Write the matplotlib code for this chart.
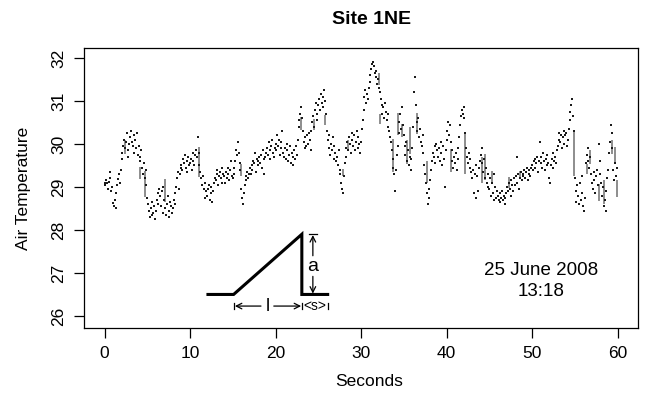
import numpy as np
import matplotlib
matplotlib.use('Agg')
import matplotlib.pyplot as plt

plt.rcParams['font.family'] = ['Liberation Sans', 'DejaVu Sans']

# Air temperature, 10 readings per second (one row per second, 0..59 s)
temp = [
    [29.10, 29.05, 29.15, 29.08, 28.95, 29.12, 29.35, 29.20, 28.90, 29.00],
    [28.62, 28.55, 28.70, 28.50, 28.85, 29.05, 29.18, 29.30, 29.10, 29.40],
    [29.65, 29.80, 29.95, 30.10, 29.90, 30.05, 30.25, 29.85, 29.70, 30.00],
    [30.15, 30.30, 30.05, 29.95, 30.20, 29.80, 30.10, 29.90, 30.25, 29.75],
    [29.95, 29.70, 29.60, 29.85, 29.45, 29.30, 29.55, 29.20, 29.40, 29.05],
    [28.75, 28.60, 28.45, 28.30, 28.50, 28.35, 28.65, 28.40, 28.55, 28.25],
    [28.45, 28.70, 28.85, 28.60, 28.95, 28.80, 28.55, 28.90, 28.40, 29.00],
    [28.70, 28.50, 28.35, 28.60, 28.80, 28.45, 28.30, 28.65, 28.55, 28.40],
    [28.50, 28.70, 28.60, 28.85, 29.00, 29.20, 29.35, 28.95, 29.30, 29.45],
    [29.50, 29.40, 29.65, 29.55, 29.75, 29.45, 29.60, 29.35, 29.70, 29.50],
    [29.55, 29.65, 29.40, 29.80, 29.60, 29.50, 29.75, 29.85, 29.70, 30.15],
    [29.80, 29.50, 29.35, 29.20, 29.05, 29.25, 28.95, 29.10, 28.75, 28.90],
    [28.80, 28.95, 29.05, 28.70, 28.85, 29.00, 28.65, 28.90, 29.10, 29.20],
    [29.15, 29.30, 29.40, 29.05, 29.25, 29.35, 29.20, 29.45, 29.10, 29.30],
    [29.25, 29.10, 29.35, 29.20, 29.45, 29.30, 29.15, 29.40, 29.60, 29.25],
    [29.20, 29.30, 29.45, 29.60, 29.85, 29.75, 30.05, 29.80, 29.55, 29.40],
    [28.95, 28.75, 28.60, 28.85, 29.05, 29.25, 29.15, 29.35, 29.20, 29.30],
    [29.45, 29.30, 29.50, 29.40, 29.60, 29.55, 29.80, 29.35, 29.65, 29.50],
    [29.60, 29.70, 29.55, 29.75, 29.45, 29.85, 29.65, 29.30, 29.70, 29.80],
    [29.90, 29.75, 30.05, 29.85, 29.65, 29.95, 30.10, 29.80, 29.70, 29.90],
    [30.00, 29.85, 30.20, 29.95, 30.10, 29.75, 29.90, 30.05, 30.30, 29.80],
    [29.70, 29.90, 29.65, 29.85, 30.00, 29.60, 29.75, 29.95, 29.55, 29.80],
    [29.70, 29.50, 29.85, 29.65, 29.95, 29.75, 30.10, 30.40, 30.55, 30.70],
    [30.85, 30.60, 30.30, 30.05, 29.90, 30.15, 29.95, 30.20, 30.00, 30.25],
    [30.10, 29.85, 30.30, 30.50, 30.65, 30.40, 30.80, 30.95, 30.55, 30.70],
    [30.90, 31.05, 30.80, 31.15, 30.95, 31.10, 30.85, 31.25, 31.00, 30.70],
    [30.30, 30.10, 29.90, 30.20, 29.75, 30.00, 29.85, 30.15, 29.65, 29.95],
    [29.80, 29.60, 29.70, 29.50, 29.85, 29.40, 29.30, 29.10, 28.95, 28.85],
    [29.25, 29.55, 29.70, 29.90, 30.05, 29.85, 30.15, 30.00, 29.80, 30.25],
    [30.10, 29.95, 30.20, 29.85, 30.05, 30.30, 29.90, 30.15, 30.00, 29.80],
    [30.05, 30.35, 30.55, 30.80, 31.10, 31.25, 30.95, 31.15, 31.05, 31.30],
    [31.45, 31.60, 31.75, 31.85, 31.90, 31.80, 31.65, 31.55, 31.70, 31.40],
    [31.50, 31.30, 31.20, 31.05, 30.90, 30.70, 30.85, 30.60, 30.95, 30.75],
    [30.55, 30.40, 30.70, 30.30, 30.15, 30.05, 29.85, 29.65, 29.45, 29.30],
    [28.90, 29.40, 29.75, 29.95, 30.25, 30.50, 30.70, 30.35, 30.85, 30.45],
    [30.20, 29.95, 29.75, 30.05, 29.60, 29.85, 29.50, 29.70, 29.40, 29.65],
    [29.90, 30.40, 31.20, 31.55, 30.90, 30.50, 30.30, 30.60, 30.15, 30.35],
    [30.05, 29.95, 30.20, 29.80, 29.50, 29.30, 29.10, 28.85, 28.60, 28.75],
    [28.95, 29.15, 29.40, 29.60, 29.80, 29.70, 29.95, 29.55, 30.00, 29.85],
    [29.70, 29.90, 29.60, 30.05, 29.80, 29.50, 29.95, 29.65, 29.00, 29.85],
    [30.10, 30.30, 30.50, 30.20, 30.45, 30.05, 29.85, 29.60, 29.45, 29.70],
    [29.55, 29.80, 29.40, 29.65, 29.90, 30.15, 30.45, 30.65, 30.80, 30.70],
    [30.85, 30.60, 30.25, 29.90, 29.70, 29.55, 29.80, 29.45, 29.65, 29.35],
    [29.20, 29.40, 28.85, 29.30, 28.75, 29.50, 29.25, 28.90, 29.45, 29.60],
    [29.75, 29.55, 29.90, 29.35, 29.65, 29.20, 29.45, 29.10, 29.30, 29.00],
    [28.95, 29.20, 28.80, 29.10, 28.85, 29.30, 28.70, 29.00, 28.75, 28.90],
    [28.80, 28.70, 28.85, 28.65, 28.75, 28.90, 28.70, 28.80, 28.60, 28.75],
    [28.85, 29.00, 28.90, 29.10, 28.95, 29.15, 28.80, 29.05, 28.90, 29.20],
    [29.05, 29.25, 29.10, 29.70, 29.30, 28.95, 29.20, 29.35, 29.15, 29.30],
    [29.25, 29.40, 29.20, 29.35, 29.45, 29.15, 29.30, 29.40, 29.25, 29.45],
    [29.50, 29.40, 29.60, 29.45, 29.65, 29.55, 29.70, 29.35, 29.60, 30.05],
    [29.55, 29.70, 29.45, 29.80, 29.60, 29.40, 29.65, 29.50, 29.75, 29.55],
    [29.20, 29.10, 29.50, 29.65, 29.45, 29.80, 29.60, 29.70, 29.55, 29.85],
    [29.95, 30.10, 30.25, 30.05, 30.20, 29.90, 30.15, 30.30, 30.00, 30.20],
    [30.25, 29.95, 30.10, 30.35, 30.55, 30.75, 30.90, 31.05, 30.65, 30.30],
    [29.20, 28.90, 28.65, 29.05, 28.80, 28.60, 29.10, 28.70, 29.25, 28.85],
    [28.55, 28.45, 28.75, 29.55, 29.75, 29.90, 29.60, 29.45, 29.70, 29.30],
    [29.10, 28.95, 29.35, 29.15, 28.85, 29.25, 29.40, 29.05, 30.00, 29.60],
    [29.30, 29.10, 28.80, 29.00, 28.55, 28.70, 28.45, 28.90, 29.20, 29.40],
    [29.80, 30.05, 30.45, 30.25, 29.90, 29.40, 29.15, 29.55, 29.25, 29.45],
]

# detected ramp drops (time, low, high)
ramp_t = [2.34, 4.17, 4.76, 7.1, 11.0, 15.98, 23.0, 24.56, 25.8, 27.87, 28.46,
          32.12, 32.2, 33.8, 34.38, 34.85, 35.35, 35.74, 36.5, 37.77, 40.54,
          42.18, 44.2, 44.5, 45.37, 47.32, 48.6, 54.96, 56.4, 56.79, 57.88,
          58.47, 59.33, 59.7, 59.9]
ramp_lo = [29.77, 29.19, 28.76, 28.64, 29.22, 29.26, 30.32, 30.32, 30.43, 29.26, 29.89,
           31.37, 30.47, 29.34, 30.2, 30.16, 29.54, 29.77, 30.24, 29.1, 29.34,
           29.3, 29.1, 29.15, 29.07, 28.97, 29.22, 29.26, 29.3, 29.54, 28.68,
           28.6, 29.77, 29.54, 28.76]
ramp_hi = [30.08, 29.46, 29.38, 29.18, 29.93, 29.54, 30.63, 30.59, 30.67, 29.42, 30.08,
           31.64, 30.7, 30.12, 30.71, 30.47, 30.08, 30.4, 30.71, 29.61, 29.89,
           30.24, 29.69, 29.77, 29.38, 29.22, 29.38, 30.32, 29.54, 29.85, 29.07,
           29.15, 30.08, 29.93, 29.15]

# ramp schematic (time, temperature)
shape_t = [12.1, 15.1, 23.08, 23.08, 26.1]
shape_y = [26.5, 26.5, 27.9, 26.5, 26.5]

secs = np.arange(len(temp))
t = np.concatenate([s + np.arange(len(row)) / 10 for s, row in zip(secs, temp)])
y = np.concatenate(temp)

fig = plt.figure(figsize=(6.48, 4.03), dpi=100)
ax = fig.add_axes([0.1296, 0.1861, 0.855, 0.6948])

ax.vlines(ramp_t, ramp_lo, ramp_hi, color='#858585', lw=1.3, zorder=2)
ax.plot(t, y, 's', color='#1a1a1a', markersize=2.0, markeredgewidth=0, zorder=3)

# schematic of a ramp
ax.plot(shape_t, shape_y, color='black', lw=2.2, solid_joinstyle='miter', zorder=4)
# amplitude "a"
ax.plot([23.9, 24.8], [27.9, 27.9], color='black', lw=0.9)
ax.annotate('', xy=(24.37, 27.88), xytext=(24.37, 27.4),
            arrowprops=dict(arrowstyle='->', lw=0.9, color='black', shrinkA=0, shrinkB=0))
ax.annotate('', xy=(24.37, 26.52), xytext=(24.37, 26.92),
            arrowprops=dict(arrowstyle='->', lw=0.9, color='black', shrinkA=0, shrinkB=0))
ax.text(24.37, 27.15, 'a', ha='center', va='center', fontsize=14)
# duration "l"
ly = 26.23
ax.plot([15.2, 15.2], [ly - 0.07, ly + 0.07], color='black', lw=0.9)
ax.plot([23.08, 23.08], [ly - 0.07, ly + 0.07], color='black', lw=0.9)
ax.plot([26.1, 26.1], [ly - 0.07, ly + 0.07], color='black', lw=0.9)
ax.annotate('', xy=(15.25, ly), xytext=(18.3, ly),
            arrowprops=dict(arrowstyle='->', lw=0.9, color='black', shrinkA=0, shrinkB=0))
ax.annotate('', xy=(23.0, ly), xytext=(19.8, ly),
            arrowprops=dict(arrowstyle='->', lw=0.9, color='black', shrinkA=0, shrinkB=0))
ax.text(19.05, ly, 'l', ha='center', va='center', fontsize=13)
ax.text(24.6, ly, '<s>', ha='center', va='center', fontsize=10)

ax.text(51.1, 27.05, '25 June 2008', ha='center', va='center', fontsize=13.5)
ax.text(51.1, 26.56, '13:18', ha='center', va='center', fontsize=13.5)

ax.set_xlim(-2.4, 62.4)
ax.set_ylim(25.72, 32.23)
ax.set_xticks([0, 10, 20, 30, 40, 50, 60])
ax.set_yticks([26, 27, 28, 29, 30, 31, 32])
ax.tick_params(direction='out', length=7, width=0.9, labelsize=12.5, pad=6)
for lab in ax.get_yticklabels():
    lab.set_rotation(90)
    lab.set_va('center')
for sp in ax.spines.values():
    sp.set_linewidth(0.9)

ax.set_ylabel('Air Temperature', fontsize=12.5, labelpad=14)
fig.text(369 / 648, 1 - 382 / 403, 'Seconds', ha='center', va='center', fontsize=12.5)
fig.text(372 / 648, 1 - 20 / 403, 'Site 1NE', ha='center', va='center',
         fontsize=14, fontweight='bold')

fig.savefig('out.png', dpi=100)
